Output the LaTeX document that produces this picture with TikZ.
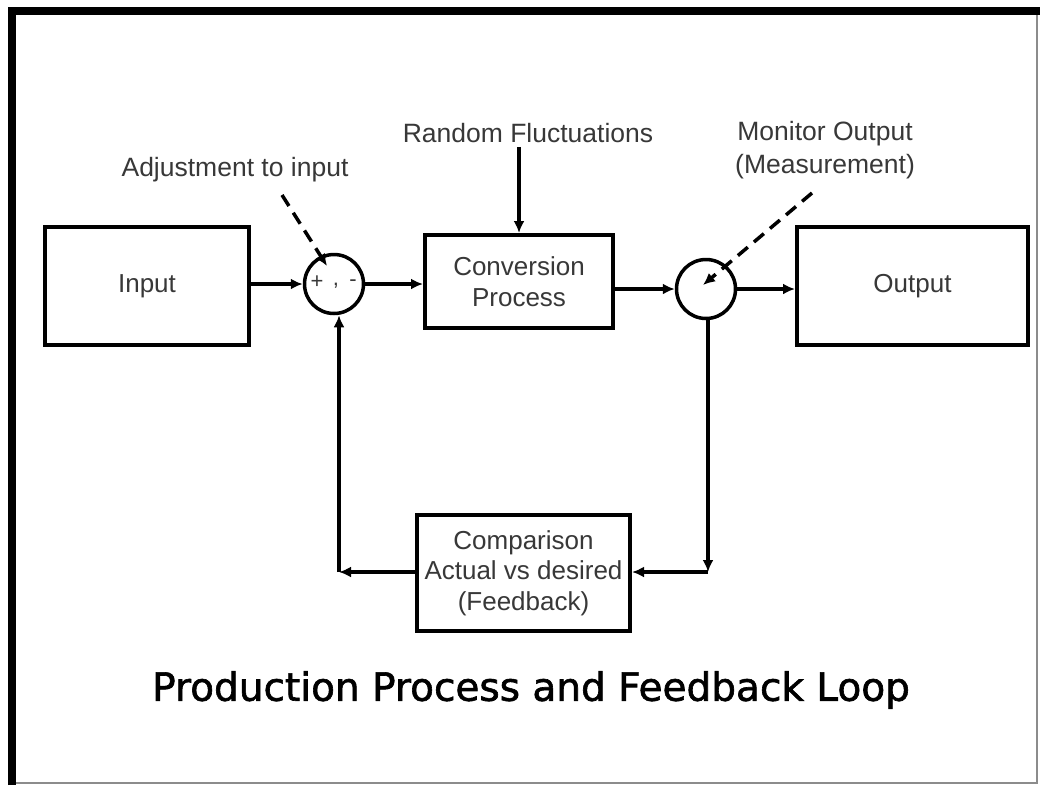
\documentclass[tikz,border=0pt]{standalone}
\usepackage{fontspec}
\setmainfont{Liberation Sans}
\newfontfamily\titlefont[FakeBold=1.6]{DejaVu Sans}
\usetikzlibrary{arrows.meta}
\definecolor{labelgray}{rgb}{0.22,0.22,0.22}
\definecolor{framegray}{rgb}{0.55,0.55,0.55}
\begin{document}
\begin{tikzpicture}[x=1pt,y=-1pt,
  block/.style={draw, line width=4pt, inner sep=0pt, align=center,
    text=labelgray, font=\fontsize{26}{30.5}\selectfont},
  junction/.style={circle, draw, line width=3.5pt, minimum size=59pt, inner sep=0pt},
  flow/.style={line width=3.5pt, -{Latex[length=12pt,width=11pt]}},
  hint/.style={flow, dash pattern=on 13pt off 8pt},
  caption/.style={text=labelgray, align=center, inner sep=0pt,
    font=\fontsize{26.5}{33}\selectfont},
  sign/.style={text=labelgray, inner sep=0pt, font=\fontsize{22}{22}\selectfont}]
\useasboundingbox (0,0) rectangle (1040,785);
\fill[white] (0,0) rectangle (1040,785);

% slide frame: thin grey right/bottom, heavy black top/left
\draw[framegray, line width=2pt] (1037,11) -- (1037,783) -- (11,783);
\draw[black, line width=8pt] (11.5,785) -- (11.5,11) -- (1040,11);

% blocks
\node[block, minimum width=204pt, minimum height=118pt] (in) at (147,286) {Input};
\node[block, minimum width=188pt, minimum height=93pt] (conv) at (519,281.5) {Conversion\\Process};
\node[block, minimum width=231pt, minimum height=118pt] (out) at (912.5,286) {Output};
\node[block, minimum width=213pt, minimum height=116pt] (cmp) at (523.5,573) {Comparison\\Actual vs desired\\(Feedback)};

% summing / measuring junctions
\node[junction] (sumL) at (334,284) {};
\node[junction] (sumR) at (706,289) {};
\node[sign] (plus) at (317,282) {+};
\node[sign] (comma) at (336,286) {,};
\node[sign] (minus) at (353,283) {-};

% labels
\node[caption] (rf) at (528,133) {Random Fluctuations};
\node[caption] (adj) at (235,170) {Adjustment to input};
\node[caption] (mon) at (825,150) {Monitor Output\\(Measurement)};
\node[text=black, inner sep=0pt, font=\titlefont\fontsize{39}{39}\selectfont] (title) at (531,690)
  {Production Process and Feedback Loop};

% helper points
\coordinate (adjtail) at (282,195);
\coordinate (adjtip) at (327,266);
\coordinate (montail) at (812,193);
\coordinate (montip) at (703,285);
\coordinate (fbR) at (708,572);
\coordinate (fbL) at (339,572);

% forward path
\draw[flow] (in.east |- sumL) -- (sumL.west);
\draw[flow] (sumL.east) -- (sumL.east -| conv.west);
\draw[flow] (conv.east |- sumR) -- (sumR.west);
\draw[flow] (sumR.east) -- (sumR.east -| out.west);
\draw[flow] (rf.south -| conv.north) ++(0,4) -- (conv.north);

% dashed hints
\draw[hint] (adjtail) -- (adjtip);
\draw[hint] (montail) -- (montip);

% feedback loop
\draw[flow] (sumR.south -| fbR) -- (fbR);
\draw[flow] (fbR) -- (fbR -| cmp.east);
\draw[flow] (cmp.west |- fbL) -- (fbL);
\draw[flow] (fbL) -- (fbL |- sumL.south);
\end{tikzpicture}
\end{document}
